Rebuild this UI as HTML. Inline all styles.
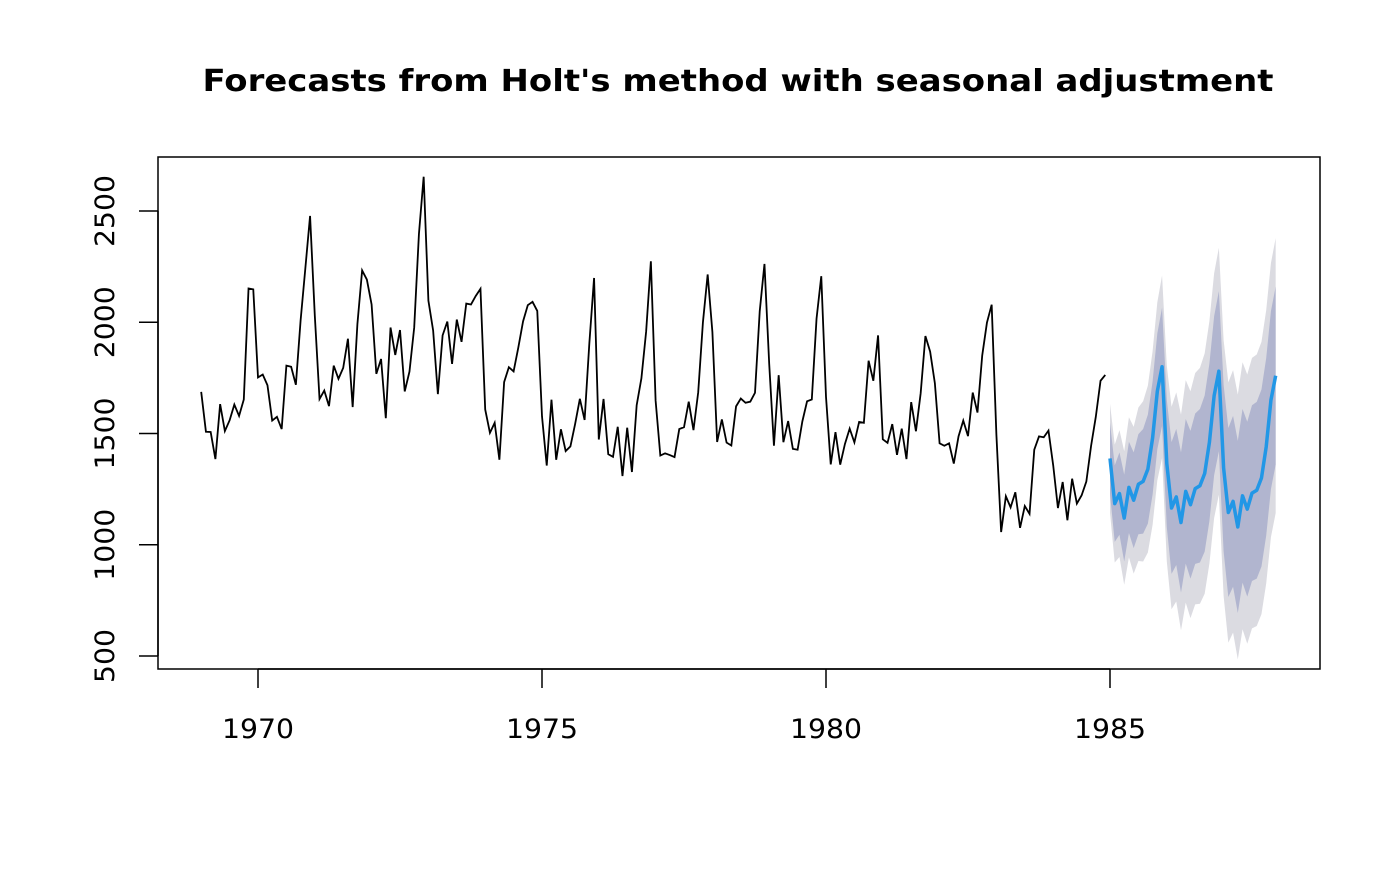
<!DOCTYPE html>
<html><head><meta charset="utf-8"><style>
body{margin:0;background:#fff}
svg text{font-family:"DejaVu Sans","Liberation Sans",sans-serif}
</style></head><body>
<svg id="c" width="1400" height="866" xmlns="http://www.w3.org/2000/svg">
<text x="738" y="91" text-anchor="middle" font-size="30" font-weight="bold" textLength="1071" lengthAdjust="spacingAndGlyphs">Forecasts from Holt's method with seasonal adjustment</text>
<rect x="158" y="157" width="1162" height="512" fill="none" stroke="#000" stroke-width="1.5"/>
<g id="bands"></g><g id="lines"></g><g id="axes"></g>
</svg>
<script>
const history = [1687,1508,1507,1385,1632,1511,1559,1630,1579,1653,2152,2148,
1752,1765,1717,1558,1575,1520,1805,1800,1719,2008,2242,2478,
2030,1655,1693,1623,1805,1746,1795,1926,1619,1992,2233,2192,
2080,1768,1835,1569,1976,1853,1965,1689,1778,1976,2397,2654,
2097,1963,1677,1941,2003,1813,2012,1912,2084,2080,2118,2150,
1608,1503,1548,1382,1731,1798,1779,1887,2004,2077,2092,2051,
1577,1356,1652,1382,1519,1421,1442,1543,1656,1561,1905,2199,
1473,1655,1407,1395,1530,1309,1526,1327,1627,1748,1958,2274,
1648,1401,1411,1403,1394,1520,1528,1643,1515,1685,2000,2215,
1956,1462,1563,1459,1446,1622,1657,1638,1643,1683,2050,2262,
1813,1445,1762,1461,1556,1431,1427,1554,1645,1653,2016,2207,
1665,1361,1506,1360,1453,1522,1460,1552,1548,1827,1737,1941,
1474,1458,1542,1404,1522,1385,1641,1510,1681,1938,1868,1726,
1456,1445,1456,1365,1487,1558,1488,1684,1594,1850,1998,2079,
1494,1057,1218,1168,1236,1076,1174,1139,1427,1487,1483,1513,
1357,1165,1282,1110,1297,1185,1222,1284,1444,1575,1737,1763];
const forecastMean = [1388,1185,1230,1120,1258,1200,1272,1285,1340,1480,1690,1800,
1365,1165,1215,1100,1240,1180,1252,1265,1320,1460,1670,1780,
1345,1145,1195,1080,1220,1160,1232,1245,1300,1440,1650,1760];
const halfWidth95 = [245,265,285,300,315,330,345,360,375,390,400,410,
440,455,470,485,500,510,520,530,540,545,550,555,
575,585,590,595,600,605,608,610,612,614,616,618];
const halfWidth80 = [160,172,185,195,205,215,225,235,245,254,260,266,
286,296,306,315,325,332,338,345,351,354,357,360,
374,380,384,387,390,393,395,397,398,399,400,400];
const xTicks = [1970,1975,1980,1985];
const yTicks = [500,1000,1500,2000,2500];
const startYear = 1969, fcStart = 1985;

const NS="http://www.w3.org/2000/svg";
const X = t => 258 + (t-1970)*56.8;
const Y = v => 656 - (v-500)*0.2225;
function mk(tag, parent, attrs){const e=document.createElementNS(NS,tag);for(const k in attrs)e.setAttribute(k,attrs[k]);document.getElementById(parent).appendChild(e);return e;}

const ft = forecastMean.map((_,i)=>fcStart+i/12);
function band(h){
  const up = ft.map((t,i)=>X(t)+","+Y(forecastMean[i]+h[i]));
  const lo = ft.map((t,i)=>X(t)+","+Y(forecastMean[i]-h[i])).reverse();
  return up.concat(lo).join(" ");
}
let b = mk("polygon","bands",{points:band(halfWidth95),fill:"#dbdbe1"});


b = mk("polygon","bands",{points:band(halfWidth80),fill:"#b1b5cf"});



let l = mk("polyline","lines",{points:history.map((v,i)=>X(startYear+i/12)+","+Y(v)).join(" "),fill:"none",stroke:"#000","stroke-width":1.8});


l = mk("polyline","lines",{points:forecastMean.map((v,i)=>X(ft[i])+","+Y(v)).join(" "),fill:"none",stroke:"#2297e6","stroke-width":3.5,"stroke-linejoin":"round"});



let ax = mk("line","axes",{x1:X(xTicks[0]),x2:X(xTicks[xTicks.length-1]),y1:669,y2:669,stroke:"#000","stroke-width":1.5});


xTicks.forEach(t=>{
  const tk = mk("line","axes",{x1:X(t),x2:X(t),y1:669,y2:688,stroke:"#000","stroke-width":1.5});
  
  
  const tx = mk("text","axes",{x:X(t),y:738,"text-anchor":"middle","font-size":27,textLength:18*String(t).length,lengthAdjust:"spacingAndGlyphs"});
  tx.textContent=t;
  
  
});
ax = mk("line","axes",{x1:158,x2:158,y1:Y(yTicks[0]),y2:Y(yTicks[yTicks.length-1]),stroke:"#000","stroke-width":1.5});


yTicks.forEach(v=>{
  const tk = mk("line","axes",{x1:139,x2:158,y1:Y(v),y2:Y(v),stroke:"#000","stroke-width":1.5});
  
  
  const tx = mk("text","axes",{x:0,y:0,"text-anchor":"middle","font-size":27,textLength:18*String(v).length,lengthAdjust:"spacingAndGlyphs",transform:`translate(114,${Y(v)}) rotate(-90)`});
  tx.textContent=v;
  
  
});
</script>
</body></html>
